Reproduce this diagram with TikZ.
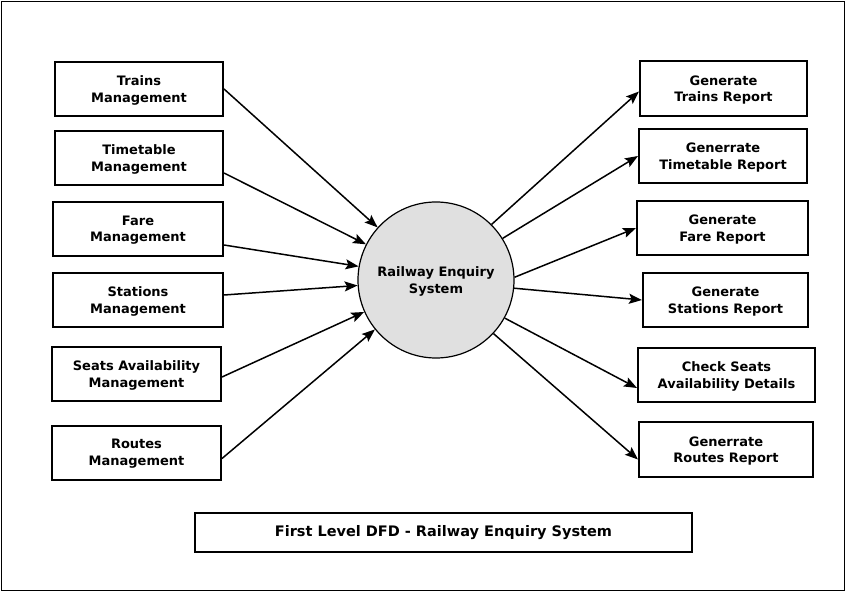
\documentclass[tikz,border=0pt]{standalone}
\usepackage{fontspec}
\setmainfont{DejaVu Sans}
\usetikzlibrary{arrows.meta, shapes.geometric}
\definecolor{processcolor}{RGB}{224, 224, 224}

\begin{document}
\begin{tikzpicture}[
    x=1pt, y=-1pt,
    >={Stealth[length=13pt, width=10pt, inset=2.5pt]},
    box/.style={rectangle, draw, line width=2pt, minimum height=54pt, align=center, inner sep=2pt, text depth=0pt, font=\fontsize{13}{16.5}\selectfont\bfseries},
    process/.style={circle, draw, line width=1.2pt, fill=processcolor, minimum size=156pt, align=center, text depth=0pt, font=\fontsize{13}{16.5}\selectfont\bfseries},
    arrow/.style={->, line width=1.5pt}
]
\useasboundingbox (0,0) rectangle (846,593);
\draw[line width=1.4pt] (1.5,1.5) rectangle (844.5,590.5);

% Process
\node[process] (sys) at (436, 280) {Railway Enquiry\\System};

% Left: inputs
\node[box, minimum width=168pt] (trains) at (139, 89) {Trains\\Management};
\node[box, minimum width=168pt] (timetable) at (139, 158) {Timetable\\Management};
\node[box, minimum width=170pt] (fare) at (138, 229) {Fare\\Management};
\node[box, minimum width=170pt] (stations) at (138, 300) {Stations\\Management};
\node[box, minimum width=169pt] (seats) at (136.5, 374) {Seats Availability\\Management};
\node[box, minimum width=169pt] (routes) at (136.5, 452.5) {Routes\\Management};

\draw[arrow] (trains.east) -- (sys.138);
\draw[arrow] ([yshift=-15pt]timetable.east) -- (sys.153);
\draw[arrow] ([yshift=-16pt]fare.east) -- (sys.170);
\draw[arrow] ([yshift=5pt]stations.east) -- (sys.184);
\draw[arrow] ([yshift=-3pt]seats.east) -- (sys.204);
\draw[arrow] ([yshift=-6pt]routes.east) -- (sys.219);

% Right: reports
\node[box, minimum width=167pt, minimum height=55pt] (trainsrep) at (723.5, 88.5) {Generate\\Trains Report};
\node[box, minimum width=168pt] (timetablerep) at (723, 156) {Generrate\\Timetable Report};
\node[box, minimum width=171pt] (farerep) at (722.5, 228) {Generate\\Fare Report};
\node[box, minimum width=165pt] (stationsrep) at (725.5, 300) {Generate\\Stations Report};
\node[box, minimum width=177pt] (seatsrep) at (726.5, 375) {Check Seats\\Availability Details};
\node[box, minimum width=174pt, minimum height=55pt] (routesrep) at (726, 449.5) {Generrate\\Routes Report};

\draw[arrow] (sys.45) -- ([yshift=-3pt]trainsrep.west);
\draw[arrow] (sys.32) -- (timetablerep.west);
\draw[arrow] (sys.2) -- (farerep.west);
\draw[arrow] (sys.-6) -- (stationsrep.west);
\draw[arrow] (sys.-29) -- ([yshift=-13pt]seatsrep.west);
\draw[arrow] (sys.-43) -- ([yshift=-10pt]routesrep.west);

% Title
\node[box, minimum width=497pt, minimum height=39pt, text depth=, font=\fontsize{14.5}{17}\selectfont\bfseries] (title) at (443.5, 532.5) {First Level DFD - Railway Enquiry System};

\end{tikzpicture}
\end{document}
